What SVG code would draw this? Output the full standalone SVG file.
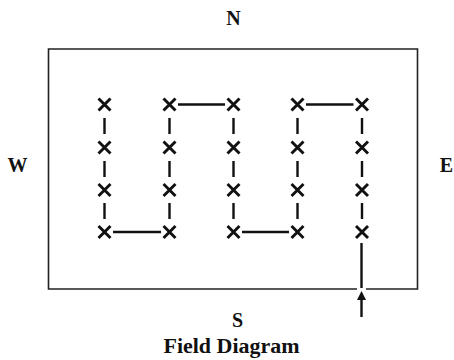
<svg xmlns="http://www.w3.org/2000/svg" width="454" height="360" viewBox="0 0 454 360">
<style>
.lbl{font-family:"Liberation Serif","Times New Roman",serif;font-weight:bold;font-size:20px;fill:#111;text-anchor:middle}
.x{stroke:#111;stroke-width:2.9;stroke-linecap:butt;fill:none}
.c{stroke:#111;stroke-width:2.4;fill:none}
.b{stroke:#222;stroke-width:1.6;fill:none}
</style>
<defs>
<path id="xm" class="x" d="M-6,-6L6,6M6,-6L-6,6"/>
</defs>
<rect width="454" height="360" fill="#fff"/>
<g id="field">
<path class="b" d="M357,289H48.5V49H417.5V289H366"/>
</g>
<g id="labels">
<text class="lbl" x="233.5" y="25">N</text>
<text class="lbl" x="17.5" y="172">W</text>
<text class="lbl" x="446.5" y="172">E</text>
<text class="lbl" x="237.5" y="326.5">S</text>
<text class="lbl" x="231.5" y="352.5" textLength="136" lengthAdjust="spacingAndGlyphs">Field Diagram</text>
</g>
<g id="connectors">
<path class="c" d="M104.5,118V134M104.5,161V177M104.5,203V219"/>
<path class="c" d="M169.5,118V134M169.5,161V177M169.5,203V219"/>
<path class="c" d="M233.5,118V134M233.5,161V177M233.5,203V219"/>
<path class="c" d="M297.5,118V134M297.5,161V177M297.5,203V219"/>
<path class="c" d="M362,118V134M362,161V177M362,203V219"/>
<path class="c" d="M178,104.5H225M306,104.5H353.5M113,232H161M242,232H289"/>
<path class="c" d="M361.5,243V288"/>
<path class="c" d="M361.5,317V297"/>
<polygon points="361.5,291 357,300 366,300" fill="#111"/>
</g>
<g id="n-1-1"><use href="#xm" x="104.5" y="104.5"/></g>
<g id="n-1-2"><use href="#xm" x="104.5" y="147.5"/></g>
<g id="n-1-3"><use href="#xm" x="104.5" y="190"/></g>
<g id="n-1-4"><use href="#xm" x="104.5" y="232"/></g>
<g id="n-2-1"><use href="#xm" x="169.5" y="104.5"/></g>
<g id="n-2-2"><use href="#xm" x="169.5" y="147.5"/></g>
<g id="n-2-3"><use href="#xm" x="169.5" y="190"/></g>
<g id="n-2-4"><use href="#xm" x="169.5" y="232"/></g>
<g id="n-3-1"><use href="#xm" x="233.5" y="104.5"/></g>
<g id="n-3-2"><use href="#xm" x="233.5" y="147.5"/></g>
<g id="n-3-3"><use href="#xm" x="233.5" y="190"/></g>
<g id="n-3-4"><use href="#xm" x="233.5" y="232"/></g>
<g id="n-4-1"><use href="#xm" x="297.5" y="104.5"/></g>
<g id="n-4-2"><use href="#xm" x="297.5" y="147.5"/></g>
<g id="n-4-3"><use href="#xm" x="297.5" y="190"/></g>
<g id="n-4-4"><use href="#xm" x="297.5" y="232"/></g>
<g id="n-5-1"><use href="#xm" x="362" y="104.5"/></g>
<g id="n-5-2"><use href="#xm" x="362" y="147.5"/></g>
<g id="n-5-3"><use href="#xm" x="362" y="190"/></g>
<g id="n-5-4"><use href="#xm" x="362" y="232"/></g>
</svg>
